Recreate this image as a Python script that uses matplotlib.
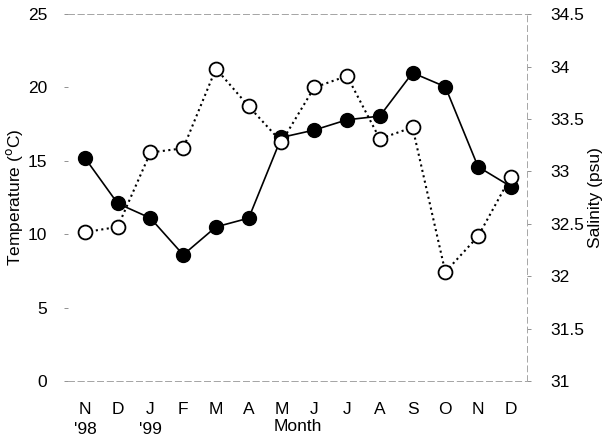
import numpy as np
import matplotlib
matplotlib.use("Agg")
import matplotlib.pyplot as plt
import matplotlib.transforms as mtransforms

plt.rcParams['font.family'] = ['Liberation Sans', 'DejaVu Sans']

months = ['N', 'D', 'J', 'F', 'M', 'A', 'M', 'J', 'J', 'A', 'S', 'O', 'N', 'D']
year_marks = {0: "'98", 2: "'99"}

temperature = [15.2, 12.1, 11.1, 8.6, 10.5, 11.1, 16.6, 17.1, 17.8, 18.05, 21.0, 20.05, 14.6, 13.25]
salinity = [32.42, 32.47, 33.18, 33.22, 33.98, 33.62, 33.28, 33.80, 33.91, 33.31, 33.42, 32.04, 32.38, 32.95]

x = np.arange(len(months))

fig = plt.figure(figsize=(6.06, 4.41), dpi=100)
ax = fig.add_axes([0.112, 0.136, 0.758, 0.832])
ax2 = ax.twinx()

ax.plot(x, temperature, '-', color='black', lw=1.2, marker='o', ms=10,
        mfc='black', mec='black', zorder=3)
ax2.plot(x, salinity, ':', color='black', lw=1.5, marker='o', ms=10,
         mfc='white', mec='black', mew=1.3, zorder=4)

ax.set_xlim(-0.52, 13.5)
ax.set_ylim(0, 25)
ax2.set_ylim(31, 34.5)

ax.set_yticks([0, 5, 10, 15, 20, 25])
ax2.set_yticks([31, 31.5, 32, 32.5, 33, 33.5, 34, 34.5])
ax2.set_yticklabels(['31', '31.5', '32', '32.5', '33', '33.5', '34', '34.5'])

ax.set_xticks(x)
ax.set_xticklabels(months)
ax.tick_params(axis='x', length=0, pad=15, labelsize=12.5)
ax.tick_params(axis='y', length=3, width=0.6, color='0.5', pad=12, labelsize=12.5)
ax2.tick_params(axis='y', length=3, width=0.6, color='0.5', pad=14, labelsize=12.5)

# year marks under the first month of each year
trans = mtransforms.blended_transform_factory(ax.transData, ax.transAxes)
for i, yr in year_marks.items():
    ax.text(x[i], -0.132, yr, transform=trans, ha='center', va='center', fontsize=12.5)

ax.set_ylabel('Temperature ($^{\\mathrm{o}}$C)', fontsize=12.5, labelpad=2)
ax2.set_ylabel('Salinity (psu)', fontsize=12.5, labelpad=2)
ax.text(0.5, -0.124, 'Month', transform=ax.transAxes, ha='center', va='center', fontsize=12.5)

for a in (ax, ax2):
    a.spines['left'].set_visible(False)
    for s in ('top', 'bottom', 'right'):
        a.spines[s].set_color('0.65')
        a.spines[s].set_linewidth(0.7)
        a.spines[s].set_linestyle((0, (6, 4)))
ax.spines['right'].set_visible(False)

fig.savefig('out.png', dpi=100)
